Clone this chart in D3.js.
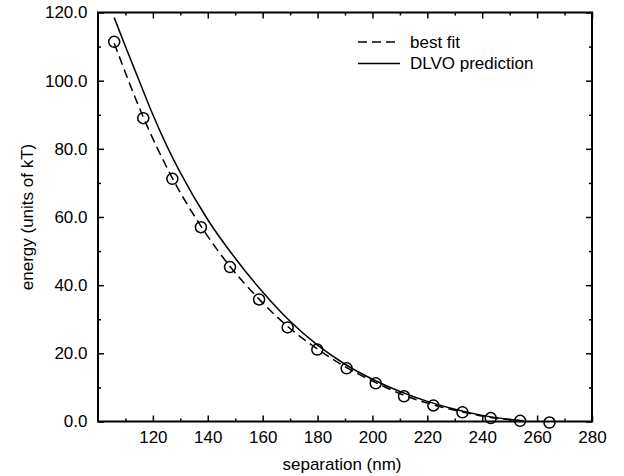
<!DOCTYPE html>
<html>
<head>
<meta charset="utf-8">
<script src="https://cdn.jsdelivr.net/npm/d3@7"></script>
<style>
  body { margin: 0; background: #fff; }
  text { font-family: "Liberation Sans", Arial, Helvetica, sans-serif; }
</style>
</head>
<body>
<svg id="chart" width="624" height="476"></svg>
<script>
// measured points (circles)
var sepData    = [105.9, 116.5, 127.1, 137.5, 148.1, 158.7, 169.1, 179.9, 190.6, 201.2, 211.5, 222.2, 232.8, 243.1, 253.8, 264.5];
var energyData = [111.4, 89.0, 71.2, 57.0, 45.3, 35.8, 27.6, 21.1, 15.6, 11.2, 7.4, 4.7, 2.7, 1.0, 0.2, -0.3];

// best fit (dashed)
var fitSep    = [105.9, 116.5, 127.1, 137.5, 148.1, 158.7, 169.1, 179.9, 190.6, 201.2, 211.5, 222.2, 232.8, 243.1, 253.8];
var fitEnergy = [111.0, 89.3, 71.4, 57.3, 45.5, 35.9, 27.9, 21.3, 15.8, 11.4, 7.7, 4.9, 2.8, 1.2, 0.3];

// DLVO prediction (solid)
var dlvoSep    = [105.9, 110, 115, 120, 125, 130, 140, 150, 160, 170, 180, 190, 200, 210, 220, 230, 240, 250, 255];
var dlvoEnergy = [118.5, 110.0, 100.0, 90.0, 81.0, 73.0, 59.2, 47.9, 38.0, 29.4, 22.4, 16.8, 12.4, 8.8, 5.9, 3.6, 1.8, 0.6, 0.2];

var xTicks = [120, 140, 160, 180, 200, 220, 240, 260, 280];
var xMinor = [110, 130, 150, 170, 190, 210, 230, 250, 270];
var yTicks = [0, 20, 40, 60, 80, 100, 120];
var yMinor = [10, 30, 50, 70, 90, 110];

var legendNames = ["best fit", "DLVO prediction"];

var plotL = 98, plotR = 592, plotT = 12.5, plotB = 421.5;

var svg = d3.select("#chart");

var x = d3.scaleLinear().domain([100, 280]).range([plotL, plotR]);
var y = d3.scaleLinear().domain([0, 120]).range([plotB, plotT]);

// axes, ticks point inward
function addAxis(axis, tx, ty) {
  var g = svg.append("g").attr("transform", "translate(" + tx + "," + ty + ")").call(axis);
  g.select(".domain").remove();
  g.selectAll("line").attr("stroke", "#000").attr("stroke-width", 1.5);
  g.selectAll("text").attr("fill", "#000").style("font-size", "17px");
  return g;
}

addAxis(d3.axisBottom(x).tickValues(xTicks).tickSize(-6).tickPadding(9.5), 0, plotB);
addAxis(d3.axisBottom(x).tickValues(xMinor).tickSize(-3).tickFormat(""), 0, plotB);
addAxis(d3.axisTop(x).tickValues(xTicks).tickSize(-6).tickFormat(""), 0, plotT);
addAxis(d3.axisTop(x).tickValues(xMinor).tickSize(-3).tickFormat(""), 0, plotT);

addAxis(d3.axisLeft(y).tickValues(yTicks).tickSize(-6).tickPadding(10.5).tickFormat(d3.format(".1f")), plotL, 0);
addAxis(d3.axisLeft(y).tickValues(yMinor).tickSize(-3).tickFormat(""), plotL, 0);
addAxis(d3.axisRight(y).tickValues(yTicks).tickSize(-6).tickFormat(""), plotR, 0);
addAxis(d3.axisRight(y).tickValues(yMinor).tickSize(-3).tickFormat(""), plotR, 0);

// frame
svg.append("rect")
  .attr("x", plotL).attr("y", plotT)
  .attr("width", plotR - plotL).attr("height", plotB - plotT)
  .attr("fill", "none").attr("stroke", "#000").attr("stroke-width", 2);

// axis titles
svg.append("text")
  .attr("x", (plotL + plotR) / 2 - 3).attr("y", 470)
  .attr("text-anchor", "middle")
  .style("font-size", "17px")
  .text("separation (nm)");

svg.append("text")
  .attr("transform", "translate(27," + ((plotT + plotB) / 2) + ") rotate(-90)")
  .attr("text-anchor", "middle")
  .attr("dy", "0.35em")
  .style("font-size", "17px")
  .text("energy (units of kT)");

var line = d3.line()
  .x(function(d){ return x(d[0]); })
  .y(function(d){ return y(d[1]); })
  .curve(d3.curveMonotoneX);

var fitPts = fitSep.map(function(s, i){ return [s, fitEnergy[i]]; });
var dlvoPts = dlvoSep.map(function(s, i){ return [s, dlvoEnergy[i]]; });

svg.append("path")
  .datum(fitPts)
  .attr("d", line)
  .attr("fill", "none").attr("stroke", "#000").attr("stroke-width", 1.5)
  .attr("stroke-dasharray", "9,5");

svg.append("path")
  .datum(dlvoPts)
  .attr("d", line)
  .attr("fill", "none").attr("stroke", "#000").attr("stroke-width", 1.5);

svg.selectAll("circle.pt")
  .data(sepData)
  .enter().append("circle")
  .attr("class", "pt")
  .attr("cx", function(d){ return x(d); })
  .attr("cy", function(d, i){ return y(energyData[i]); })
  .attr("r", 5.5)
  .attr("fill", "none").attr("stroke", "#000").attr("stroke-width", 1.5);

// legend
var legend = svg.append("g");
legendNames.forEach(function(name, i){
  var ly = 42 + i * 21.5;
  legend.append("line")
    .attr("x1", 358).attr("x2", 400)
    .attr("y1", ly).attr("y2", ly)
    .attr("stroke", "#000").attr("stroke-width", 1.5)
    .attr("stroke-dasharray", i == 0 ? "9,5" : null);
  legend.append("text")
    .attr("x", 410).attr("y", ly)
    .attr("dy", "0.35em")
    .style("font-size", "17px")
    .text(name);
});
</script>
</body>
</html>
